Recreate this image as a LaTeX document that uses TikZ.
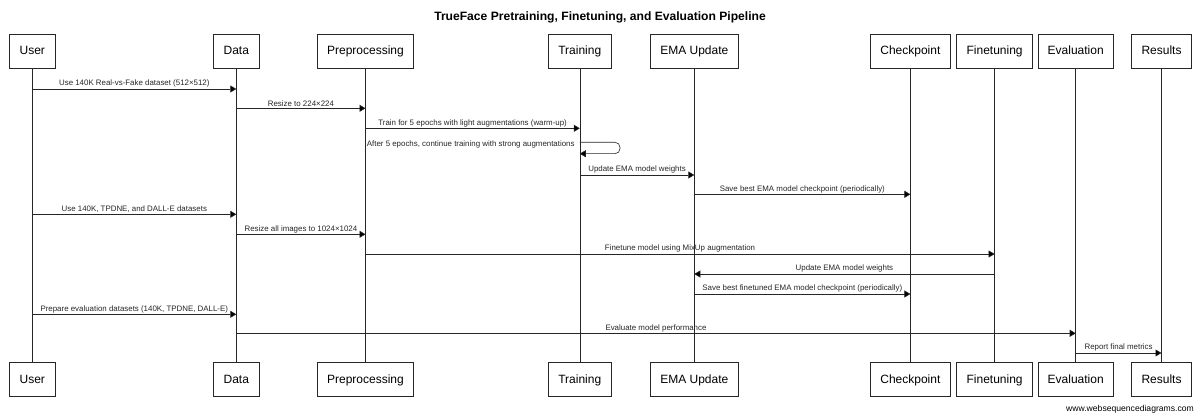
\documentclass[tikz,border=0pt]{standalone}
\usepackage{fontspec}
\setmainfont{Liberation Sans}
\usetikzlibrary{arrows.meta}
\newcommand\seqmsg[4]{%
  \coordinate (row) at (0,#3);
  \draw[msg] (#1 |- row) -- node[lbl,above] {#4} (#2 |- row);}
\begin{document}
\begin{tikzpicture}[x=1pt,y=-1pt,
  actor/.style={draw=black!85,line width=0.8pt,minimum height=34pt,font=\fontsize{12}{14}\selectfont,inner sep=0pt,text height=9pt,text depth=2.5pt,fill=white},
  life/.style={line width=0.6pt,draw=black!85},
  msg/.style={line width=0.6pt,draw=black!85,-{Triangle[length=6pt,width=7pt,fill=black]}},
  lbl/.style={font=\fontsize{7.9}{9.5}\selectfont,inner sep=1.2pt,text=black!85}]
\useasboundingbox (0,0) rectangle (1200,417);
\node[font=\bfseries\fontsize{12.1}{14}\selectfont] (title) at (600,17) {TrueFace Pretraining, Finetuning, and Evaluation Pipeline};
% actors
\foreach \n/\x/\w/\t in {u/32.3/45.7/User, d/236.3/46/Data, p/365.5/96.7/Preprocessing, t/579.8/62.6/Training, e/694.3/88.5/EMA Update, c/910.4/79.4/Checkpoint, f/994.6/76.5/Finetuning, v/1075.7/75/Evaluation, r/1161.5/60/Results}{
  \node[actor,minimum width=\w pt] (\n T) at (\x,51.3) {\t};
  \node[actor,minimum width=\w pt] (\n B) at (\x,379.8) {\t};
  \draw[life] (\n T.south) -- (\n B.north);
}
% messages
\seqmsg{uT}{dT}{89}{Use 140K Real-vs-Fake dataset (512×512)}
\seqmsg{dT}{pT}{108.3}{Resize to 224×224}
\seqmsg{pT}{tT}{128.3}{Train for 5 epochs with light augmentations (warm-up)}
% self message
\coordinate (sa) at (0,142.3);
\coordinate (sb) at (0,153.7);
\coordinate (sr) at (620,0);
\draw[msg,rounded corners=5pt] (tT |- sa) -- (sr |- sa) -- (sr |- sb) -- (tT |- sb);
\coordinate (sl) at (576,144.5);
\node[lbl,anchor=east] at (sl) {After 5 epochs, continue training with strong augmentations};
\seqmsg{tT}{eT}{175}{Update EMA model weights}
\seqmsg{eT}{cT}{194.3}{Save best EMA model checkpoint (periodically)}
\seqmsg{uT}{dT}{214.3}{Use 140K, TPDNE, and DALL-E datasets}
\seqmsg{dT}{pT}{234.3}{Resize all images to 1024×1024}
\seqmsg{pT}{fT}{254}{Finetune model using MixUp augmentation}
\seqmsg{fT}{eT}{274}{Update EMA model weights}
\seqmsg{eT}{cT}{294}{Save best finetuned EMA model checkpoint (periodically)}
\seqmsg{uT}{dT}{314.3}{Prepare evaluation datasets (140K, TPDNE, DALL-E)}
\seqmsg{dT}{vT}{333.3}{Evaluate model performance}
\seqmsg{vT}{rT}{353}{Report final metrics}
\node[font=\fontsize{8.6}{10}\selectfont,anchor=east,inner sep=0pt] (wm) at (1194,409) {www.websequencediagrams.com};
\end{tikzpicture}
\end{document}
